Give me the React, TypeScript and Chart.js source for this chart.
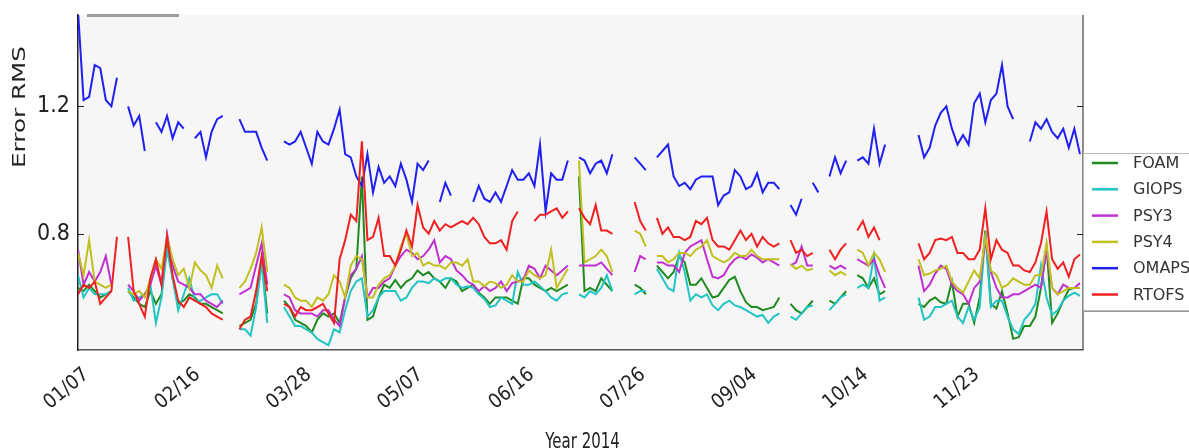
import React, { useEffect, useRef } from "react";
import { Chart, registerables } from "chart.js";

Chart.register(...registerables);

// x grid: day of year 2014, every second day
const days: number[] = Array.from({ length: 181 }, (_, i) => 4 + 2 * i);

const tickDays = [7, 47, 87, 127, 167, 207, 247, 287, 327];
const tickLabels = ["01/07", "02/16", "03/28", "05/07", "06/16", "07/26", "09/04", "10/14", "11/23"];
const yTickValues = [0.8, 1.2];

const seriesNames = ["FOAM", "GIOPS", "PSY3", "PSY4", "OMAPS", "RTOFS"];
const seriesColors = ["#1f8a1f", "#22c4c4", "#c030d0", "#c0c020", "#2020f0", "#f02020"];

const FOAM = [
  0.63, 0.62, 0.64, 0.62, 0.60, 0.61, 0.62, null, null, 0.62,
  0.60, 0.58, 0.57, 0.62, 0.58, 0.61, 0.77, 0.66, 0.58, 0.59,
  0.61, 0.60, 0.58, 0.58, 0.57, 0.56, 0.55, null, null, 0.51,
  0.52, 0.53, 0.58, 0.72, 0.55, null, null, 0.59, 0.57, 0.53,
  0.52, 0.51, 0.49, 0.53, 0.55, 0.54, 0.55, 0.52, 0.60, 0.66,
  0.69, 0.98, 0.53, 0.54, 0.60, 0.64, 0.63, 0.655, 0.63, 0.65,
  0.66, 0.685, 0.67, 0.68, 0.66, 0.65, 0.63, 0.66, 0.65, 0.62,
  0.63, 0.64, 0.615, 0.60, 0.58, 0.60, 0.60, 0.60, 0.59, 0.58,
  0.66, 0.66, 0.64, 0.63, 0.62, 0.63, 0.62, 0.63, 0.64, null,
  0.98, 0.62, 0.63, 0.62, 0.66, 0.64, 0.62, null, null, null,
  0.64, 0.63, 0.61, null, 0.70, 0.68, 0.66, 0.68, 0.73, 0.71,
  0.64, 0.64, 0.66, 0.63, 0.60, 0.605, 0.63, 0.655, 0.665, 0.62,
  0.585, 0.57, 0.57, 0.56, 0.565, 0.57, 0.60, null, 0.58, 0.56,
  0.55, 0.57, 0.59, null, null, 0.59, 0.58, 0.60, 0.62, null,
  0.67, 0.66, 0.63, 0.66, 0.61, 0.62, null, null, null, null,
  null, 0.58, 0.57, 0.59, 0.60, 0.585, 0.58, 0.65, 0.54, 0.58,
  0.58, 0.52, 0.60, 0.81, 0.58, 0.565, 0.62, 0.55, 0.47, 0.475,
  0.51, 0.51, 0.54, 0.63, 0.76, 0.52, 0.55, 0.59, 0.625, 0.63,
  0.63,
];

const GIOPS = [
  0.67, 0.60, 0.63, 0.61, 0.61, 0.61, 0.62, null, null, 0.63,
  0.59, 0.60, 0.61, 0.64, 0.52, 0.60, 0.75, 0.66, 0.56, 0.61,
  0.66, 0.59, 0.59, 0.60, 0.61, 0.61, 0.58, null, null, 0.50,
  0.50, 0.48, 0.57, 0.71, 0.52, null, null, 0.57, 0.54, 0.51,
  0.51, 0.50, 0.49, 0.47, 0.46, 0.45, 0.50, 0.49, 0.56, 0.62,
  0.65, 0.66, 0.54, 0.56, 0.60, 0.62, 0.62, 0.62, 0.59, 0.60,
  0.63, 0.65, 0.65, 0.645, 0.66, 0.65, 0.66, 0.66, 0.64, 0.63,
  0.635, 0.63, 0.61, 0.595, 0.57, 0.575, 0.60, 0.59, 0.58, 0.68,
  0.64, 0.64, 0.65, 0.635, 0.62, 0.60, 0.59, 0.61, 0.615, null,
  0.61, 0.60, 0.62, 0.61, 0.63, 0.67, 0.62, null, null, null,
  0.61, 0.62, 0.62, null, 0.69, 0.66, 0.63, 0.62, 0.74, 0.68,
  0.59, 0.61, 0.60, 0.61, 0.575, 0.56, 0.58, 0.59, 0.575, 0.57,
  0.56, 0.55, 0.54, 0.545, 0.52, 0.54, 0.55, null, 0.54, 0.53,
  0.55, 0.57, 0.575, null, null, 0.56, 0.58, 0.60, 0.61, null,
  0.63, 0.64, 0.63, 0.73, 0.59, 0.60, null, null, null, null,
  null, 0.60, 0.53, 0.54, 0.57, 0.57, 0.58, 0.59, 0.54, 0.52,
  0.57, 0.53, 0.57, 0.80, 0.57, 0.59, 0.59, 0.54, 0.50, 0.485,
  0.53, 0.55, 0.58, 0.70, 0.60, 0.545, 0.56, 0.59, 0.605, 0.615,
  0.605,
];

const PSY3 = [
  0.75, 0.64, 0.68, 0.65, 0.68, 0.73, 0.64, null, null, 0.64,
  0.62, 0.59, 0.61, 0.64, 0.70, 0.64, 0.80, 0.70, 0.65, 0.64,
  0.63, 0.61, 0.61, 0.59, 0.58, 0.57, 0.59, null, null, 0.61,
  0.62, 0.63, 0.70, 0.77, 0.64, null, null, 0.61, 0.60, 0.56,
  0.55, 0.55, 0.55, 0.54, 0.56, 0.56, 0.53, 0.51, 0.60, 0.67,
  0.69, 0.73, 0.60, 0.63, 0.63, 0.65, 0.66, 0.70, 0.73, 0.75,
  0.74, 0.72, 0.73, 0.75, 0.78, 0.71, 0.73, 0.72, 0.685, 0.67,
  0.65, 0.64, 0.62, 0.635, 0.62, 0.63, 0.65, 0.62, 0.645, 0.65,
  0.655, 0.70, 0.69, 0.66, 0.70, 0.685, 0.67, 0.685, 0.70, null,
  0.70, 0.70, 0.70, 0.70, 0.71, 0.69, 0.67, null, null, null,
  0.68, 0.73, 0.72, null, 0.71, 0.71, 0.70, 0.70, 0.68, 0.74,
  0.76, 0.77, 0.78, 0.72, 0.665, 0.66, 0.67, 0.70, 0.72, 0.73,
  0.72, 0.735, 0.725, 0.71, 0.72, 0.71, 0.70, null, 0.70, 0.71,
  0.76, 0.70, 0.70, null, null, 0.70, 0.69, 0.70, 0.69, null,
  0.72, 0.71, 0.70, 0.72, 0.67, 0.63, null, null, null, null,
  null, 0.70, 0.62, 0.64, 0.675, 0.70, 0.69, 0.64, 0.62, 0.61,
  0.58, 0.63, 0.65, 0.78, 0.68, 0.63, 0.60, 0.60, 0.61, 0.61,
  0.62, 0.63, 0.64, 0.63, 0.75, 0.63, 0.61, 0.64, 0.63, 0.63,
  0.645,
];

const PSY4 = [
  0.74, 0.67, 0.78, 0.65, 0.64, 0.63, 0.64, null, null, 0.62,
  0.61, 0.62, 0.60, 0.66, 0.72, 0.69, 0.79, 0.72, 0.67, 0.69,
  0.63, 0.71, 0.685, 0.67, 0.63, 0.70, 0.66, null, null, 0.63,
  0.65, 0.69, 0.74, 0.82, 0.68, null, null, 0.64, 0.63, 0.60,
  0.59, 0.59, 0.57, 0.60, 0.59, 0.61, 0.67, 0.65, 0.60, 0.70,
  0.73, 0.72, 0.60, 0.60, 0.64, 0.66, 0.67, 0.70, 0.76, 0.80,
  0.73, 0.74, 0.70, 0.71, 0.70, 0.70, 0.69, 0.71, 0.71, 0.70,
  0.72, 0.65, 0.65, 0.635, 0.65, 0.645, 0.63, 0.64, 0.67, 0.65,
  0.65, 0.685, 0.67, 0.66, 0.67, 0.75, 0.63, 0.66, 0.69, null,
  1.03, 0.71, 0.72, 0.73, 0.75, 0.73, 0.68, null, null, null,
  0.81, 0.80, 0.76, null, 0.73, 0.73, 0.71, 0.72, 0.74, 0.74,
  0.73, 0.75, 0.76, 0.78, 0.73, 0.72, 0.71, 0.72, 0.74, 0.73,
  0.73, 0.75, 0.73, 0.72, 0.72, 0.72, 0.72, null, 0.705, 0.69,
  0.70, 0.685, 0.69, null, null, 0.685, 0.67, 0.68, 0.67, null,
  0.75, 0.74, 0.70, 0.74, 0.72, 0.68, null, null, null, null,
  null, 0.72, 0.67, 0.675, 0.685, 0.69, 0.70, 0.65, 0.63, 0.615,
  0.65, 0.685, 0.66, 0.79, 0.685, 0.67, 0.63, 0.64, 0.66, 0.65,
  0.64, 0.64, 0.67, 0.67, 0.77, 0.63, 0.61, 0.62, 0.63, 0.63,
  0.63,
];

const OMAPS = [
  1.50, 1.22, 1.23, 1.33, 1.32, 1.22, 1.20, 1.29, null, 1.20,
  1.14, 1.17, 1.06, null, 1.15, 1.12, 1.17, 1.10, 1.15, 1.13,
  null, 1.10, 1.12, 1.04, 1.12, 1.16, 1.17, null, null, 1.16,
  1.12, 1.12, 1.12, 1.07, 1.03, null, null, 1.09, 1.08, 1.09,
  1.12, 1.07, 1.02, 1.12, 1.09, 1.08, 1.13, 1.19, 1.05, 1.04,
  0.98, 0.95, 1.05, 0.93, 1.01, 0.96, 0.98, 0.95, 1.02, 0.97,
  0.90, 1.02, 1.00, 1.03, null, 0.90, 0.96, 0.92, null, null,
  null, 0.90, 0.95, 0.91, 0.90, 0.93, 0.90, 0.95, 1.00, 0.97,
  0.97, 0.99, 0.95, 1.08, 0.87, 0.99, 0.97, 0.97, 1.03, null,
  1.04, 1.03, 0.99, 1.02, 1.03, 0.99, 1.05, null, null, null,
  1.04, 1.02, 1.00, null, 1.04, 1.06, 1.08, 0.98, 0.95, 0.96,
  0.94, 0.97, 0.98, 0.98, 0.98, 0.89, 0.92, 0.93, 1.00, 0.98,
  0.94, 0.95, 0.99, 0.93, 0.96, 0.96, 0.94, null, 0.89, 0.86,
  0.91, null, 0.96, 0.93, null, 0.98, 1.04, 0.99, 1.03, null,
  1.03, 1.04, 1.02, 1.13, 1.02, 1.08, null, null, null, null,
  null, 1.11, 1.04, 1.07, 1.14, 1.18, 1.20, 1.13, 1.08, 1.11,
  1.08, 1.21, 1.24, 1.15, 1.22, 1.24, 1.33, 1.20, 1.16, null,
  null, 1.09, 1.15, 1.13, 1.16, 1.12, 1.10, 1.13, 1.07, 1.13,
  1.05,
];

const RTOFS = [
  0.61, 0.64, 0.63, 0.65, 0.58, 0.60, 0.62, 0.79, null, 0.79,
  0.62, 0.58, 0.54, 0.66, 0.72, 0.64, 0.79, 0.67, 0.59, 0.57,
  0.60, 0.59, 0.58, 0.57, 0.55, 0.54, 0.53, null, null, 0.50,
  0.53, 0.54, 0.62, 0.73, 0.62, null, null, 0.58, 0.57, 0.54,
  0.57, 0.56, 0.56, 0.57, 0.58, 0.55, 0.52, 0.72, 0.78, 0.86,
  0.84, 1.09, 0.78, 0.79, 0.85, 0.73, 0.73, 0.70, 0.75, 0.81,
  0.76, 0.89, 0.82, 0.80, 0.84, 0.81, 0.83, 0.82, 0.83, 0.84,
  0.83, 0.85, 0.83, 0.79, 0.77, 0.77, 0.78, 0.75, 0.84, 0.87,
  null, null, 0.84, 0.86, 0.86, 0.87, 0.88, 0.85, 0.87, null,
  0.88, 0.85, 0.83, 0.89, 0.81, 0.81, 0.80, null, null, null,
  0.90, 0.84, 0.81, null, 0.85, 0.80, 0.82, 0.79, 0.79, 0.78,
  0.79, 0.84, 0.83, 0.85, 0.78, 0.76, 0.76, 0.75, 0.78, 0.81,
  0.78, 0.80, 0.76, 0.79, 0.77, 0.76, 0.77, null, 0.78, 0.74,
  0.75, 0.73, 0.74, null, null, 0.75, 0.72, 0.75, 0.77, null,
  0.81, 0.84, 0.79, 0.82, 0.78, null, null, null, null, null,
  null, 0.77, 0.72, 0.74, 0.78, 0.785, 0.78, 0.79, 0.74, 0.74,
  0.72, 0.72, 0.75, 0.88, 0.72, 0.78, 0.75, 0.74, 0.70, 0.70,
  0.685, 0.68, 0.71, 0.77, 0.87, 0.72, 0.69, 0.71, 0.665, 0.72,
  0.735,
];

const seriesValues = [FOAM, GIOPS, PSY3, PSY4, OMAPS, RTOFS];

const tickFont = "'DejaVu Sans Condensed', 'DejaVu Sans', sans-serif";
const textFont = "'DejaVu Sans', sans-serif";

const decorPlugin = {
  id: "decor",
  beforeDraw(chart: any) {
    const { ctx, chartArea: a, width, height } = chart;
    ctx.save();
    ctx.fillStyle = "#ffffff";
    ctx.fillRect(0, 0, width, height);
    ctx.fillStyle = "#f6f6f6";
    ctx.fillRect(a.left, a.top, a.right - a.left, a.bottom - a.top);
    ctx.restore();
  },
  afterDraw(chart: any) {
    const { ctx, chartArea: a, scales } = chart;
    const ys = scales.y;
    ctx.save();
    // right spine
    ctx.strokeStyle = "#666";
    ctx.lineWidth = 1.5;
    ctx.beginPath();
    ctx.moveTo(a.right, a.top);
    ctx.lineTo(a.right, a.bottom);
    ctx.stroke();
    // inward y ticks on both spines
    ctx.strokeStyle = "#222";
    ctx.lineWidth = 1;
    for (const v of yTickValues) {
      const py = Math.round(ys.getPixelForValue(v)) + 0.5;
      ctx.beginPath();
      ctx.moveTo(a.left, py);
      ctx.lineTo(a.left + 6, py);
      ctx.moveTo(a.right - 6, py);
      ctx.lineTo(a.right, py);
      ctx.stroke();
    }
    // grey bar at top-left
    ctx.fillStyle = "#9c9c9c";
    ctx.fillRect(a.left + 9, a.top - 1, 92, 3);

    // legend box (outside plot, on the right)
    const boxTop = a.top + 138;
    const boxH = 157;
    ctx.fillStyle = "#ffffff";
    ctx.fillRect(a.right, boxTop, 140, boxH);
    ctx.strokeStyle = "#b8b8b8";
    ctx.lineWidth = 1;
    ctx.strokeRect(a.right + 0.5, boxTop + 0.5, 140, boxH);
    ctx.strokeStyle = "#999";
    ctx.beginPath();
    ctx.moveTo(a.right, boxTop + boxH + 1.5);
    ctx.lineTo(a.right + 140, boxTop + boxH + 1.5);
    ctx.stroke();
    ctx.font = `16px ${textFont}`;
    ctx.textBaseline = "middle";
    ctx.textAlign = "left";
    chart.data.datasets.forEach((ds: any, i: number) => {
      const cy = boxTop + 10 + i * 26.3;
      ctx.strokeStyle = ds.borderColor;
      ctx.lineWidth = 2.5;
      ctx.beginPath();
      ctx.moveTo(a.right + 9, cy);
      ctx.lineTo(a.right + 35, cy);
      ctx.stroke();
      ctx.fillStyle = "#333";
      ctx.fillText(ds.label, a.right + 50, cy + 1);
    });

    // y axis title
    ctx.fillStyle = "#222";
    ctx.save();
    ctx.translate(21, a.top + 92);
    ctx.rotate(-Math.PI / 2);
    ctx.scale(1.45, 1);
    ctx.font = `17px ${textFont}`;
    ctx.textAlign = "center";
    ctx.textBaseline = "middle";
    ctx.fillText("Error RMS", 0, 0);
    ctx.restore();

    // x axis title
    ctx.save();
    ctx.translate((a.left + a.right) / 2 + 2, a.bottom + 82);
    ctx.scale(1, 1.4);
    ctx.font = `15px ${textFont}`;
    ctx.textAlign = "center";
    ctx.textBaseline = "top";
    ctx.fillText("Year 2014", 0, 0);
    ctx.restore();

    ctx.restore();
  },
};

export default function App() {
  const ref = useRef<HTMLCanvasElement | null>(null);

  useEffect(() => {
    if (!ref.current) return;
    const datasets = seriesNames.map((name, i) => ({
      label: name,
      data: seriesValues[i].map((v, k) => ({ x: days[k], y: v })),
      borderColor: seriesColors[i],
      backgroundColor: seriesColors[i],
      borderWidth: 2,
      pointRadius: 0,
      tension: 0,
      spanGaps: false,
      fill: false,
      order: seriesNames.length - 1 - i,
    }));

    const chart = new Chart(ref.current, {
      type: "line",
      data: { datasets },
      options: {
        animation: false,
        responsive: false,
        maintainAspectRatio: false,
        devicePixelRatio: 1,
        layout: { padding: { left: 0, right: 106, top: 15, bottom: 0 } },
        plugins: {
          legend: { display: false },
          tooltip: { enabled: false },
          title: { display: false },
        },
        scales: {
          x: {
            type: "linear",
            min: 4,
            max: 365.1,
            afterBuildTicks: (s: any) => {
              s.ticks = tickDays.map((v) => ({ value: v }));
            },
            afterFit: (s: any) => {
              s.height = 98;
              s.paddingLeft = 0;
              s.paddingRight = 0;
            },
            ticks: {
              autoSkip: false,
              minRotation: 40,
              maxRotation: 40,
              padding: 13,
              color: "#222",
              font: { family: tickFont, size: 20 },
              callback: (v: any) => {
                const idx = tickDays.indexOf(Number(v));
                return idx >= 0 ? tickLabels[idx] : "";
              },
            },
            grid: { display: false, drawTicks: false },
            border: { display: true, color: "#555", width: 1.5 },
          },
          y: {
            type: "linear",
            min: 0.435,
            max: 1.487,
            afterBuildTicks: (s: any) => {
              s.ticks = yTickValues.map((v) => ({ value: v }));
            },
            afterFit: (s: any) => {
              s.width = 78;
              s.paddingTop = 0;
              s.paddingBottom = 0;
            },
            ticks: {
              padding: 8,
              color: "#222",
              font: { family: tickFont, size: 23 },
              callback: (v: any) => Number(v).toFixed(1),
            },
            grid: { display: false, drawTicks: false },
            border: { display: true, color: "#222", width: 1.5 },
          },
        },
      } as any,
      plugins: [decorPlugin],
    });
    return () => chart.destroy();
  }, []);

  return (
    <div style={{ position: "fixed", left: 0, top: 0, width: 1189, height: 448, background: "#fff" }}>
      <canvas ref={ref} width={1189} height={448} style={{ display: "block", width: 1189, height: 448 }} />
    </div>
  );
}
